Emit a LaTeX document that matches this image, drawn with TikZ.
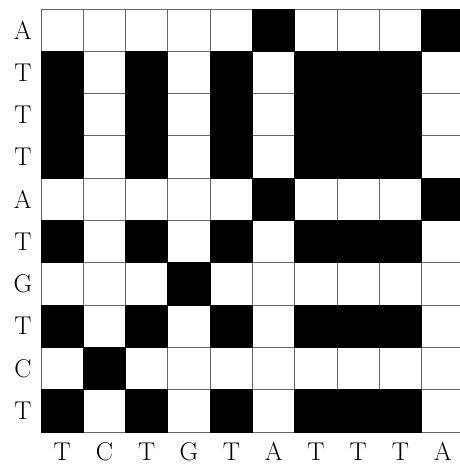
\documentclass[tikz,border=0pt]{standalone}
\usepackage{tikz}
\usetikzlibrary{positioning}

\tikzset{
  cellbox/.style={draw=black!60,line width=0.6pt},
  dotbox/.style={fill=black,draw=black,line width=0.6pt},
  seqlabel/.style={font=\LARGE,inner sep=0pt}
}

\begin{document}
\begin{tikzpicture}
  \useasboundingbox (-0.97,-0.757) rectangle (9.905,10.213);
  \def\rowseq{A,T,T,T,A,T,G,T,C,T}
  \def\colseq{T,C,T,G,T,A,T,T,T,A}
  % empty grid
  \foreach \j in {1,...,10}
    \foreach \i in {1,...,10}
      \draw[cellbox,fill=white] (\i-1,10-\j) rectangle ++(1,1);
  % matches of the dot plot
  \foreach \r [count=\j] in \rowseq {
    \foreach \c [count=\i] in \colseq {
      \edef\tmpa{\r}\edef\tmpb{\c}
      \ifx\tmpa\tmpb
        \draw[dotbox] (\i-1,10-\j) rectangle ++(1,1);
      \fi
    }
  }
  % sequence labels
  \foreach \r [count=\j] in \rowseq
    \node[seqlabel] (row\j) at (-0.43,10.5-\j) {\r};
  \foreach \c [count=\i] in \colseq
    \node[seqlabel] (col\i) at (\i-0.5,-0.47) {\c};
\end{tikzpicture}
\end{document}
